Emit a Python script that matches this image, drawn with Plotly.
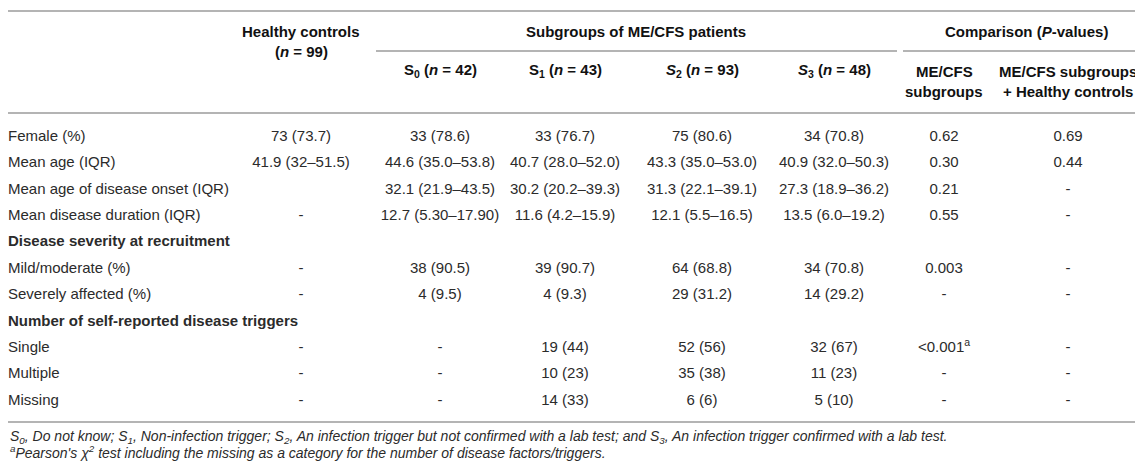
import plotly.graph_objects as go

# table content
row_labels = ['Female (%)', 'Mean age (IQR)', 'Mean age of disease onset (IQR)',
              'Mean disease duration (IQR)', '<b>Disease severity at recruitment</b>',
              'Mild/moderate (%)', 'Severely affected (%)',
              '<b>Number of self-reported disease triggers</b>',
              'Single', 'Multiple', 'Missing']
healthy = ['73 (73.7)', '41.9 (32–51.5)', '', '-', '', '-', '-', '', '-', '-', '-']
s0 = ['33 (78.6)', '44.6 (35.0–53.8)', '32.1 (21.9–43.5)', '12.7 (5.30–17.90)', '',
      '38 (90.5)', '4 (9.5)', '', '-', '-', '-']
s1 = ['33 (76.7)', '40.7 (28.0–52.0)', '30.2 (20.2–39.3)', '11.6 (4.2–15.9)', '',
      '39 (90.7)', '4 (9.3)', '', '19 (44)', '10 (23)', '14 (33)']
s2 = ['75 (80.6)', '43.3 (35.0–53.0)', '31.3 (22.1–39.1)', '12.1 (5.5–16.5)', '',
      '64 (68.8)', '29 (31.2)', '', '52 (56)', '35 (38)', '6 (6)']
s3 = ['34 (70.8)', '40.9 (32.0–50.3)', '27.3 (18.9–36.2)', '13.5 (6.0–19.2)', '',
      '34 (70.8)', '14 (29.2)', '', '32 (67)', '11 (23)', '5 (10)']
p_subgroups = ['0.62', '0.30', '0.21', '0.55', '', '0.003', '-', '', '&lt;0.001<sup>a</sup>', '-', '-']
p_all = ['0.69', '0.44', '-', '-', '', '-', '-', '', '-', '-', '-']

col_headers = ['S<sub>0</sub> (<i>n</i> = 42)', 'S<sub>1</sub> (<i>n</i> = 43)',
               '<i>S</i><sub>2</sub> (<i>n</i> = 93)', '<i>S</i><sub>3</sub> (<i>n</i> = 48)']
footnotes = ['<i>S<sub>0</sub>, Do not know; S<sub>1</sub>, Non-infection trigger; S<sub>2</sub>, '
             'An infection trigger but not confirmed with a lab test; and S<sub>3</sub>, '
             'An infection trigger confirmed with a lab test.</i>',
             '<i><sup>a</sup>Pearson\'s χ<sup>2</sup> test including the missing as a category '
             'for the number of disease factors/triggers.</i>']

W, H = 1143, 461
FONT = 'Liberation Sans, Arial, sans-serif'
TXT = '#2b2b2b'
LINE = '#b4b4b4'

col_x = [293, 432, 557, 694, 826, 936, 1060]
row_y = [129 + 26.4 * i for i in range(len(row_labels))]

fig = go.Figure()

# row labels, left aligned
fig.add_trace(go.Scatter(x=[0] * len(row_labels), y=row_y, mode='text', text=row_labels,
                         textposition='middle right',
                         textfont=dict(family=FONT, size=15, color=TXT),
                         hoverinfo='skip', showlegend=False))

for cx, col in zip(col_x, [healthy, s0, s1, s2, s3, p_subgroups, p_all]):
    ys = [y for y, v in zip(row_y, col) if v]
    vals = [v for v in col if v]
    fig.add_trace(go.Scatter(x=[cx] * len(vals), y=ys, mode='text', text=vals,
                             textposition='middle center',
                             textfont=dict(family=FONT, size=15, color=TXT),
                             hoverinfo='skip', showlegend=False))

def ann(x, y, text, size=15, color='#111', align='center', anchor='center'):
    fig.add_annotation(x=x, y=y, xref='x', yref='y', text=text, showarrow=False,
                       xanchor=anchor, yanchor='middle', align=align,
                       font=dict(family=FONT, size=size, color=color))

# header
ann(293, 23, '<b>Healthy controls</b>')
ann(293, 43, '<b>(<i>n</i> = 99)</b>')
ann(628, 23, '<b>Subgroups of ME/CFS patients</b>')
ann(1018, 23, '<b>Comparison (<i>P</i>-values)</b>')
for cx, h in zip(col_x[1:5], col_headers):
    ann(cx, 62, '<b>' + h + '</b>')
ann(936, 63, '<b>ME/CFS</b>')
ann(936, 83, '<b>subgroups</b>')
ann(1060, 63, '<b>ME/CFS subgroups</b>')
ann(1060, 83, '<b>+ Healthy controls</b>')

# footnotes
ann(0, 429, footnotes[0], size=14, color=TXT, anchor='left')
ann(0, 444, footnotes[1], size=14, color=TXT, anchor='left')

# rules
for x0, x1, y in [(0, W, 3), (368, 889, 43), (895, W, 43), (0, W, 105), (0, W, 414)]:
    fig.add_shape(type='line', x0=x0, x1=x1, y0=y, y1=y, xref='x', yref='y',
                  line=dict(color=LINE, width=2))

fig.update_xaxes(range=[0, W], visible=False, fixedrange=True)
fig.update_yaxes(range=[H, 0], visible=False, fixedrange=True)
fig.update_layout(width=W, height=H, margin=dict(l=0, r=0, t=0, b=0),
                  paper_bgcolor='white', plot_bgcolor='white')

fig.write_html('out.html')
